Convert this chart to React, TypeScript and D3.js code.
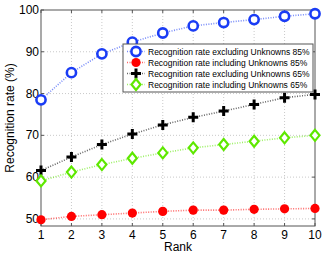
import React from 'react';
import * as d3 from 'd3';

const ranks = [1, 2, 3, 4, 5, 6, 7, 8, 9, 10];
const excl85 = [78.5, 85.0, 89.5, 92.3, 94.5, 96.2, 97.0, 97.7, 98.5, 99.1];
const incl85 = [49.8, 50.6, 51.0, 51.4, 51.8, 52.1, 52.1, 52.3, 52.4, 52.5];
const excl65 = [61.6, 64.8, 67.8, 70.3, 72.5, 74.3, 75.8, 77.4, 79.0, 79.8];
const incl65 = [59.1, 61.2, 63.0, 64.5, 65.8, 67.0, 67.8, 68.6, 69.4, 70.0];
const yTicks = [50, 60, 70, 80, 90, 100];
const legendLabels = [
  'Recognition rate excluding Unknowns 85%',
  'Recognition rate including Unknowns 85%',
  'Recognition rate excluding Unknowns 65%',
  'Recognition rate including Unknowns 65%',
];

const W = 327, H = 255;
const left = 41, right = 315, top = 10, bottom = 226;
const font = 'Liberation Sans, Arial, sans-serif';

type Kind = 'circle' | 'dot' | 'plus' | 'diamond';
const series: { vals: number[]; color: string; kind: Kind }[] = [
  { vals: excl85, color: '#1a3cf5', kind: 'circle' },
  { vals: incl85, color: '#ff0000', kind: 'dot' },
  { vals: excl65, color: '#000000', kind: 'plus' },
  { vals: incl65, color: '#5ee800', kind: 'diamond' },
];

function Marker({ x, y, kind, color }: { x: number; y: number; kind: Kind; color: string }) {
  if (kind === 'circle') return <circle cx={x} cy={y} r={4.6} fill="white" stroke={color} strokeWidth={2.6} />;
  if (kind === 'dot') return <circle cx={x} cy={y} r={4.6} fill={color} />;
  if (kind === 'plus')
    return <path d={`M${x - 5},${y}H${x + 5}M${x},${y - 5}V${y + 5}`} stroke={color} strokeWidth={3} />;
  return (
    <path d={`M${x},${y - 5.5}L${x + 4.5},${y}L${x},${y + 5.5}L${x - 4.5},${y}Z`} fill="white" stroke={color} strokeWidth={2.2} />
  );
}

export default function App() {
  const x = d3.scaleLinear().domain([1, 10]).range([left, right]);
  const y = d3.scaleLinear().domain([48.3, 100]).range([bottom, top]);
  const line = d3.line<number>().x((_, i) => x(ranks[i])).y(d => y(d));

  const lx = 123, ly = 44, lw = 190, lh = 48;
  const rowY = (i: number) => ly + 7.5 + i * 11;

  return (
    <svg width={W} height={H} style={{ position: 'absolute', left: 0, top: 0, background: 'white' }}>
      <rect x={left} y={top} width={right - left} height={bottom - top} fill="white" />
      {ranks.slice(1, -1).map(r => (
        <line key={'gx' + r} x1={x(r)} x2={x(r)} y1={top} y2={bottom} stroke="#bbb" strokeWidth={0.8} strokeDasharray="1,2" />
      ))}
      {yTicks.filter(t => t < 100).map(t => (
        <line key={'gy' + t} x1={left} x2={right} y1={y(t)} y2={y(t)} stroke="#bbb" strokeWidth={0.8} strokeDasharray="1,2" />
      ))}
      <rect x={left} y={top} width={right - left} height={bottom - top} fill="none" stroke="#555" strokeWidth={1} />
      {ranks.map(r => (
        <g key={'tx' + r}>
          <line x1={x(r)} x2={x(r)} y1={bottom} y2={bottom - 3} stroke="#555" />
          <line x1={x(r)} x2={x(r)} y1={top} y2={top + 3} stroke="#555" />
          <text x={x(r)} y={bottom + 13} textAnchor="middle" fontSize={12} fontFamily={font}>{r}</text>
        </g>
      ))}
      {yTicks.map(t => (
        <g key={'ty' + t}>
          <line x1={left} x2={left + 3} y1={y(t)} y2={y(t)} stroke="#555" />
          <line x1={right} x2={right - 3} y1={y(t)} y2={y(t)} stroke="#555" />
          <text x={left - 2} y={y(t) + 4} textAnchor="end" fontSize={12} fontFamily={font}>{t}</text>
        </g>
      ))}
      <text x={(left + right) / 2} y={251} textAnchor="middle" fontSize={12} fontFamily={font}>Rank</text>
      <text transform={`translate(14,${(top + bottom) / 2}) rotate(-90)`} textAnchor="middle" fontSize={12} fontFamily={font}>
        Recognition rate (%)
      </text>
      {series.map((s, si) => (
        <g key={'s' + si}>
          <path d={line(s.vals) || ''} fill="none" stroke={s.color} strokeWidth={1.6} strokeDasharray="1,1.5" opacity={0.6} />
          {s.vals.map((v, i) => (
            <Marker key={i} x={x(ranks[i])} y={y(v)} kind={s.kind} color={s.color} />
          ))}
        </g>
      ))}
      <rect x={lx} y={ly} width={lw} height={lh} fill="white" stroke="#555" strokeWidth={1} />
      {series.map((s, i) => (
        <g key={'l' + i}>
          <line x1={lx + 4} x2={lx + 22} y1={rowY(i)} y2={rowY(i)} stroke={s.color} strokeWidth={1.6} strokeDasharray="1,1.5" opacity={0.6} />
          <Marker x={lx + 13} y={rowY(i)} kind={s.kind} color={s.color} />
          <text x={lx + 25} y={rowY(i) + 3} fontSize={8.5} fontFamily={font}>{legendLabels[i]}</text>
        </g>
      ))}
    </svg>
  );
}
